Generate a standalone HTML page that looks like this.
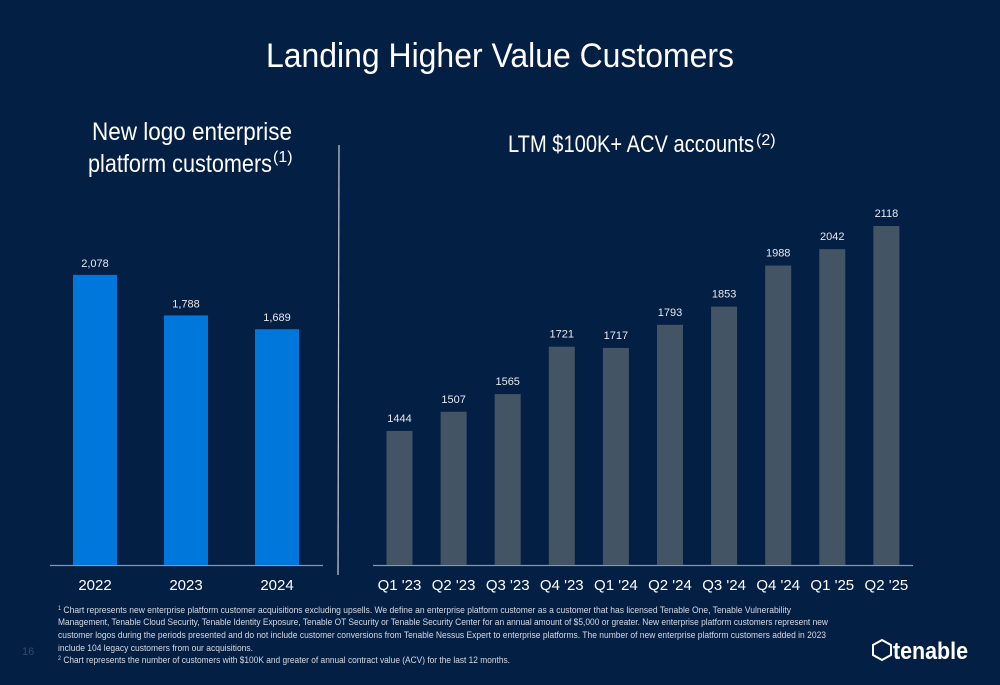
<!DOCTYPE html>
<html><head><meta charset="utf-8"><style>
body{margin:0;width:1000px;height:685px;background:#041f44;overflow:hidden;font-family:"Liberation Sans",sans-serif}
svg{display:block}
</style></head><body>
<svg id="c" width="1000" height="685" viewBox="0 0 1000 685">
<rect width="1000" height="685" fill="#041f44"/>
<text x="500" y="67" text-anchor="middle" fill="#fff" font-size="34" textLength="468" lengthAdjust="spacingAndGlyphs">Landing Higher Value Customers</text>
<text x="192" y="140" text-anchor="middle" fill="#fff" font-size="25" textLength="200" lengthAdjust="spacingAndGlyphs">New logo enterprise</text>
<text x="180" y="172" text-anchor="middle" fill="#fff" font-size="25" textLength="184" lengthAdjust="spacingAndGlyphs">platform customers</text>
<text x="273" y="162" fill="#fff" font-size="16">(1)</text>
<text x="508" y="152" fill="#fff" font-size="24" textLength="246" lengthAdjust="spacingAndGlyphs">LTM $100K+ ACV accounts</text>
<text x="756" y="145" fill="#fff" font-size="16">(2)</text>
<line x1="339" y1="145" x2="338" y2="575" stroke="#c8d0d8" stroke-width="1.2"/>
<g id="left"></g><g id="right"></g>
<g font-size="9.3" fill="#d6dbe2">
<text x="58" y="613" textLength="733" lengthAdjust="spacingAndGlyphs"><tspan font-size="6" dy="-3">1</tspan><tspan dy="3">  Chart represents new enterprise platform customer acquisitions excluding upsells. We define an enterprise platform customer as a customer that has licensed Tenable One, Tenable Vulnerability</tspan></text>
<text x="58" y="625" textLength="770" lengthAdjust="spacingAndGlyphs">Management, Tenable Cloud Security, Tenable Identity Exposure, Tenable OT Security or Tenable Security Center for an annual amount of $5,000 or greater. New enterprise platform customers represent new</text>
<text x="58" y="638" textLength="768" lengthAdjust="spacingAndGlyphs">customer logos during the periods presented and do not include customer conversions from Tenable Nessus Expert to enterprise platforms. The number of new enterprise platform customers added in 2023</text>
<text x="58" y="651" textLength="195" lengthAdjust="spacingAndGlyphs">include 104 legacy customers from our acquisitions.</text>
<text x="58" y="663" textLength="452" lengthAdjust="spacingAndGlyphs"><tspan font-size="6" dy="-3">2</tspan><tspan dy="3">  Chart represents the number of customers with $100K and greater of annual contract value (ACV) for the last 12 months.</tspan></text>
</g>
<text x="22" y="655" fill="#2f4a6a" font-size="11">16</text>
<g>
<polygon points="882,640 891,645 891,655 882,660 873,655 873,645" fill="none" stroke="#fff" stroke-width="2"/>
<text x="893" y="659" fill="#fff" font-size="24" font-weight="bold" textLength="75" lengthAdjust="spacingAndGlyphs">tenable</text>
</g>
</svg>
<script>
const leftCategories=["2022","2023","2024"];
const leftValues=[2078,1788,1689];
const leftLabels=["2,078","1,788","1,689"];
const rightCategories=["Q1 '23","Q2 '23","Q3 '23","Q4 '23","Q1 '24","Q2 '24","Q3 '24","Q4 '24","Q1 '25","Q2 '25"];
const rightValues=[1444,1507,1565,1721,1717,1793,1853,1988,2042,2118];
const rightLabels=["1444","1507","1565","1721","1717","1793","1853","1988","2042","2118"];
const NS="http://www.w3.org/2000/svg";
function mk(t,a,p){const e=document.createElementNS(NS,t);for(const k in a)e.setAttribute(k,a[k]);p.appendChild(e);return e;}
const base=565;
// left
const gl=document.getElementById('left');
const lx=i=>95+i*91, ly=v=>base-v*0.1396;
let ax=mk('line',{x1:50,y1:base+0.5,x2:323,y2:base+0.5,stroke:'#8a96a4','stroke-width':1.2},gl);


leftValues.forEach((v,i)=>{
 const r=mk('rect',{x:lx(i)-22,y:ly(v),width:44,height:base-ly(v),fill:'#0077db'},gl);
 
 
 const t=mk('text',{x:lx(i),y:ly(v)-8,'text-anchor':'middle',fill:'#e6e9ee','font-size':11},gl);t.textContent=leftLabels[i];
 
 
 const c=mk('text',{x:lx(i),y:590,'text-anchor':'middle',fill:'#fff','font-size':15},gl);c.textContent=leftCategories[i];
 
 
});
// right
const gr=document.getElementById('right');
const rx=i=>399.5+i*54.1, ry=v=>base-(v-1003)*0.304;
let ax2=mk('line',{x1:373,y1:base+0.5,x2:913,y2:base+0.5,stroke:'#8a96a4','stroke-width':1.2},gr);


rightValues.forEach((v,i)=>{
 const r=mk('rect',{x:rx(i)-13,y:ry(v),width:26,height:base-ry(v),fill:'#435565'},gr);
 
 
 const t=mk('text',{x:rx(i),y:ry(v)-9,'text-anchor':'middle',fill:'#e6e9ee','font-size':11},gr);t.textContent=rightLabels[i];
 
 
 const c=mk('text',{x:rx(i),y:590,'text-anchor':'middle',fill:'#fff','font-size':15},gr);c.textContent=rightCategories[i];
 
 
});
</script>
</body></html>
